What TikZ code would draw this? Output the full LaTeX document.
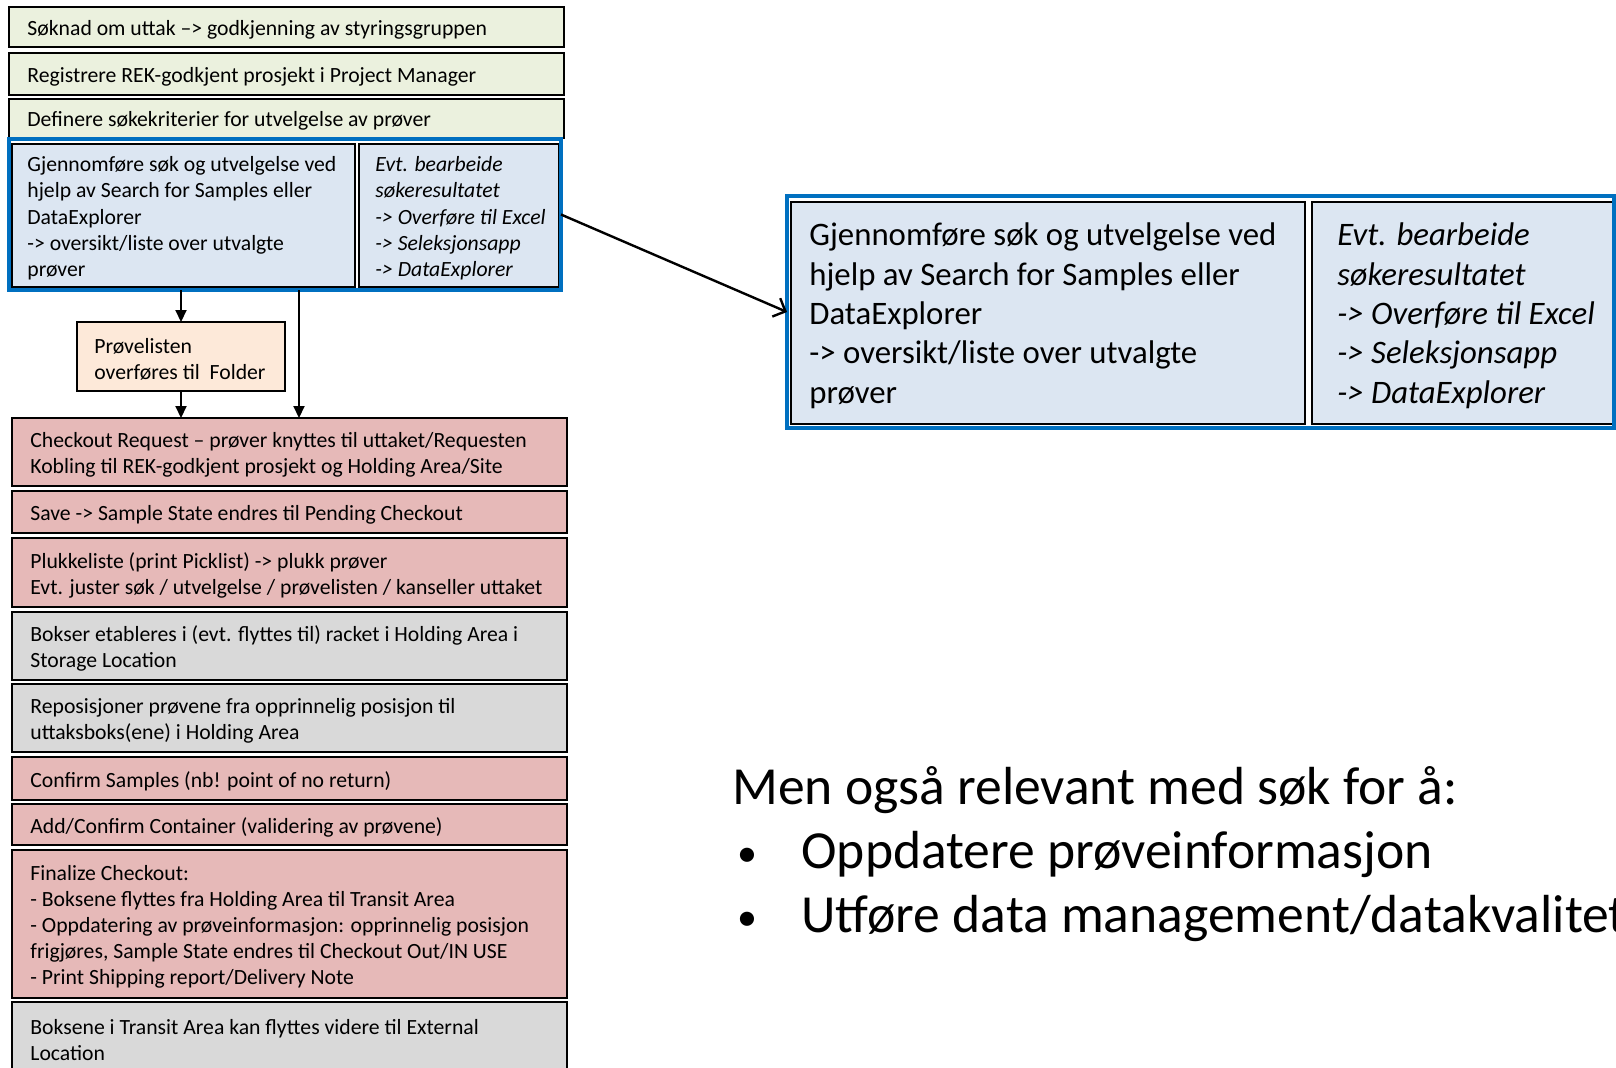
\documentclass[tikz,border=0pt]{standalone}
\usepackage{fontspec}
\setmainfont{Carlito}
\usetikzlibrary{arrows.meta,calc}
\definecolor{grn}{HTML}{EBF1DE}
\definecolor{blu}{HTML}{DCE6F2}
\definecolor{pch}{HTML}{FDE9D9}
\definecolor{pnk}{HTML}{E6B9B8}
\definecolor{gry}{HTML}{D9D9D9}
\definecolor{frameblue}{HTML}{0070C0}
\newcommand\fsmall{\fontsize{10.85}{13.1}\selectfont}
\newcommand\fbig{\fontsize{16.4}{19.7}\selectfont}
\newcommand\fhuge{\fontsize{26.8}{32}\selectfont}
\newcommand\bulletmark{\makebox[32pt][l]{\raisebox{1pt}{\fontsize{20}{24}\selectfont •}}}
\tikzset{
  boxst/.style={draw=black, line width=1pt, rectangle, inner sep=0pt, outer sep=0pt},
  txt/.style={inner sep=0pt, align=left, text=black},
  blueframe/.style={draw=frameblue, line width=2pt, rectangle, inner sep=0pt, outer sep=0pt},
  downarrow/.style={line width=1pt, -{Triangle[length=6pt,width=5.5pt]}},
  diagarrow/.style={line width=1.2pt, -{Straight Barb[length=5pt,width=10pt]}},
}
% name, x, y, w, h, fill, text offset, text, font
\newcommand\flowbox[9]{%
  \node[boxst, fill=#6, minimum width=#4*0.5pt, minimum height=#5*0.5pt, anchor=north west] (#1) at (#2,#3) {};
  \node[txt, font=#9, anchor=west] (#1t) at ([xshift=#7*0.5pt, yshift=-1.4pt]#1.west) {#8};}
\begin{document}
\begin{tikzpicture}[x=0.5pt, y=-0.5pt]
\useasboundingbox (0,0) rectangle (1616,1067);
% top boxes
\flowbox{s1}{9}{7}{555}{40}{grn}{18}{Søknad om uttak –> godkjenning av styringsgruppen}{\fsmall}
\flowbox{s2}{9}{53}{555}{42}{grn}{18}{Registrere REK-godkjent prosjekt i Project Manager}{\fsmall}
\flowbox{s3}{9}{99}{555}{39}{grn}{18}{Definere søkekriterier for utvelgelse av prøver}{\fsmall}
\flowbox{s4a}{12}{144}{343}{143}{blu}{15}{Gjennomføre søk og utvelgelse ved\\hjelp av Search for Samples eller\\DataExplorer\\-> oversikt/liste over utvalgte\\prøver}{\fsmall}
\flowbox{s4b}{359}{144}{200}{143}{blu}{16}{Evt. bearbeide\\søkeresultatet\\-> Overføre til Excel\\-> Seleksjonsapp\\-> DataExplorer}{\fsmall\itshape}
\node[blueframe, minimum width=552*0.5pt, minimum height=151*0.5pt, anchor=north west] (f4) at (9,139) {};
% folder
\flowbox{fold}{77}{322}{208}{69}{pch}{17}{Prøvelisten\\overføres til~ Folder}{\fsmall}
% checkout steps
\flowbox{c1}{12}{418}{555}{68}{pnk}{18}{Checkout Request – prøver knyttes til uttaket/Requesten\\Kobling til REK-godkjent prosjekt og Holding Area/Site}{\fsmall}
\flowbox{c2}{12}{491}{555}{42}{pnk}{18}{Save -> Sample State endres til Pending Checkout}{\fsmall}
\flowbox{c3}{12}{538}{555}{69}{pnk}{18}{Plukkeliste (print Picklist) -> plukk prøver\\Evt. juster søk / utvelgelse / prøvelisten / kanseller uttaket}{\fsmall}
\flowbox{c4}{12}{612}{555}{68}{gry}{18}{Bokser etableres i (evt. flyttes til) racket i Holding Area i\\Storage Location}{\fsmall}
\flowbox{c5}{12}{684}{555}{68}{gry}{18}{Reposisjoner prøvene fra opprinnelig posisjon til\\uttaksboks(ene) i Holding Area}{\fsmall}
\flowbox{c6}{12}{757}{555}{43}{pnk}{18}{Confirm Samples (nb! point of no return)}{\fsmall}
\flowbox{c7}{12}{804}{555}{41}{pnk}{18}{Add/Confirm Container (validering av prøvene)}{\fsmall}
\flowbox{c8}{12}{850}{555}{148}{pnk}{18}{Finalize Checkout:\\- Boksene flyttes fra Holding Area til Transit Area\\- Oppdatering av prøveinformasjon: opprinnelig posisjon\\frigjøres, Sample State endres til Checkout Out/IN USE\\- Print Shipping report/Delivery Note}{\fsmall}
\flowbox{c9}{12}{1002}{555}{70}{gry}{18}{Boksene i Transit Area kan flyttes videre til External\\Location}{\fsmall}
% enlarged view
\flowbox{rL}{791}{202}{514}{222}{blu}{18}{Gjennomføre søk og utvelgelse ved\\hjelp av Search for Samples eller\\DataExplorer\\-> oversikt/liste over utvalgte\\prøver}{\fbig}
\flowbox{rR}{1312}{202}{302}{222}{blu}{25}{Evt. bearbeide\\søkeresultatet\\-> Overføre til Excel\\-> Seleksjonsapp\\-> DataExplorer}{\fbig\itshape}
\node[blueframe, minimum width=827*0.5pt, minimum height=232*0.5pt, anchor=north west] (R) at (787,196) {};
% connectors
\draw[downarrow] (fold.north |- f4.south) -- (fold.north);
\draw[downarrow] (fold.south) -- (fold.south |- c1.north);
\coordinate (split) at (299,290);
\draw[downarrow] (split) -- (split |- c1.north);
\draw[diagarrow] (f4.east) -- (R.west);
% bottom text
\node[txt, font=\fhuge, anchor=west] (men) at (732,790) {Men også relevant med søk for å:};
\node[txt, font=\fhuge, anchor=west] (b1) at (737,854) {\bulletmark Oppdatere prøveinformasjon};
\node[txt, font=\fhuge, anchor=west] (b2) at (737,918) {\bulletmark Utføre data management/datakvalitet};
\end{tikzpicture}
\end{document}
